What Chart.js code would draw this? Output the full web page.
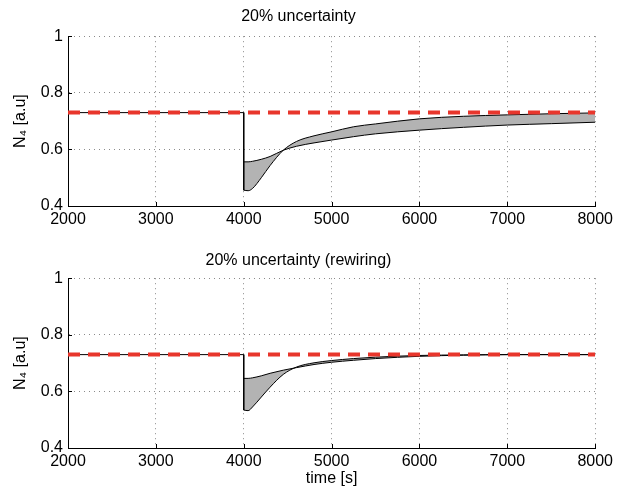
<!DOCTYPE html>
<html lang="en">
<head>
  <meta charset="UTF-8">
  <title>N4 response, 20% uncertainty</title>
  <script src="https://cdn.jsdelivr.net/npm/chart.js"></script>
  <style>
    body {
      margin: 0;
      background: #fff;
      font-family: "Liberation Sans", Arial, sans-serif;
    }
    .panel {
      position: absolute;
      left: 0;
      width: 617px;
      height: 245px;
    }
  </style>
</head>
<body>
  <div class="panel" style="top: 0"><canvas id="topChart" width="617" height="245"></canvas></div>
  <div class="panel" style="top: 245px"><canvas id="bottomChart" width="617" height="245"></canvas></div>

  <script>
    // axis ticks
    const xTicks = [2000, 3000, 4000, 5000, 6000, 7000, 8000];
    const yTicks = [0.4, 0.6, 0.8, 1];

    // steady state level (red dashed)
    const refTimes = [2000, 8000];
    const refLevel = [0.73, 0.73];

    // band bounds after the perturbation at t = 4000
    const bandTimes = [4000, 4050, 4100, 4200, 4300, 4450, 4600, 4800, 5000, 5250, 5500, 6000, 6500, 7000, 7500, 8000];

    // 20% uncertainty
    const topStepTimes = [2000, 4000, 4000];
    const topStepValues = [0.73, 0.73, 0.456];
    const topA = [0.556, 0.556, 0.558, 0.565, 0.575, 0.597, 0.611, 0.623, 0.633, 0.645, 0.655, 0.668, 0.678, 0.686, 0.691, 0.696];
    const topB = [0.456, 0.454, 0.462, 0.500, 0.543, 0.597, 0.628, 0.648, 0.662, 0.680, 0.690, 0.708, 0.717, 0.722, 0.726, 0.729];

    // 20% uncertainty (rewiring)
    const botStepTimes = [2000, 4000, 4000];
    const botStepValues = [0.73, 0.73, 0.534];
    const botA = [0.646, 0.646, 0.648, 0.655, 0.664, 0.675, 0.684, 0.695, 0.703, 0.710, 0.716, 0.724, 0.728, 0.730, 0.730, 0.730];
    const botB = [0.534, 0.532, 0.545, 0.580, 0.615, 0.660, 0.686, 0.701, 0.709, 0.716, 0.721, 0.727, 0.729, 0.730, 0.730, 0.730];

    const FONT = '"Liberation Sans", Arial, sans-serif';
    const pts = (xs, ys) => xs.map((x, i) => ({ x: x, y: ys[i] }));

    // matlab style ticks pointing into the plot area
    const innerTicks = {
      id: 'innerTicks',
      afterDatasetsDraw(chart) {
        const { ctx, chartArea: a, scales: { x, y } } = chart;
        ctx.save();
        ctx.strokeStyle = '#000';
        ctx.lineWidth = 1;
        ctx.beginPath();
        x.ticks.forEach(t => {
          const px = Math.round(x.getPixelForValue(t.value)) + 0.5;
          ctx.moveTo(px, a.bottom);
          ctx.lineTo(px, a.bottom - 4);
        });
        y.ticks.forEach(t => {
          const py = Math.round(y.getPixelForValue(t.value)) + 0.5;
          ctx.moveTo(a.left, py);
          ctx.lineTo(a.left + 4, py);
        });
        ctx.stroke();
        ctx.restore();
      }
    };

    function makeChart(id, title, stepTimes, stepValues, a, b, opts) {
      const ctx = document.getElementById(id).getContext('2d');
      return new Chart(ctx, {
        type: 'line',
        data: {
          datasets: [
            {
              data: pts(refTimes, refLevel),
              borderColor: '#e8362c',
              borderWidth: 4,
              borderDash: [12, 8],
              pointRadius: 0,
              fill: false
            },
            {
              data: pts(stepTimes, stepValues),
              borderColor: '#000',
              borderWidth: 1,
              pointRadius: 0,
              tension: 0,
              fill: false
            },
            {
              data: pts(bandTimes, a),
              borderColor: '#000',
              borderWidth: 1,
              pointRadius: 0,
              cubicInterpolationMode: 'monotone',
              fill: false
            },
            {
              data: pts(bandTimes, b),
              borderColor: '#000',
              borderWidth: 1,
              backgroundColor: '#b3b3b3',
              pointRadius: 0,
              cubicInterpolationMode: 'monotone',
              fill: '-1'
            }
          ]
        },
        options: {
          responsive: false,
          animation: false,
          events: [],
          layout: { padding: { left: 0, right: 20, top: 0, bottom: 0 } },
          plugins: {
            legend: { display: false },
            tooltip: { enabled: false },
            title: {
              display: true,
              text: title,
              color: '#000',
              font: { family: FONT, size: 16, weight: 'normal' },
              padding: opts.titlePad
            }
          },
          scales: {
            x: {
              type: 'linear',
              min: 2000,
              max: 8000,
              afterBuildTicks: s => { s.ticks = xTicks.map(v => ({ value: v })); },
              afterFit: s => { s.height = opts.xHeight; },
              ticks: {
                color: '#000',
                padding: 4,
                font: { family: FONT, size: 16 },
                maxRotation: 0,
                callback: v => String(v)
              },
              grid: { color: '#8a8a8a', lineWidth: 1, drawTicks: false },
              border: { display: true, color: '#000', width: 1, dash: [1, 4] },
              title: opts.xTitle
                ? { display: true, text: opts.xTitle, color: '#000', font: { family: FONT, size: 16 }, padding: { top: 0, bottom: 2 } }
                : { display: false }
            },
            y: {
              min: 0.4,
              max: 1,
              afterBuildTicks: s => { s.ticks = yTicks.map(v => ({ value: v })); },
              afterFit: s => { s.width = 68; },
              ticks: {
                color: '#000',
                padding: 5,
                font: { family: FONT, size: 16 },
                callback: v => String(+v.toFixed(1))
              },
              grid: { color: '#8a8a8a', lineWidth: 1, drawTicks: false },
              border: { display: true, color: '#000', width: 1, dash: [1, 4] },
              title: {
                display: true,
                text: 'N\u2084 [a.u]',
                color: '#000',
                font: { family: FONT, size: 16 },
                padding: { top: 11, bottom: 0 }
              }
            }
          }
        },
        plugins: [innerTicks]
      });
    }

    makeChart('topChart', '20% uncertainty', topStepTimes, topStepValues, topA, topB, {
      titlePad: { top: 7, bottom: 10 },
      xHeight: 39
    });

    makeChart('bottomChart', '20% uncertainty (rewiring)', botStepTimes, botStepValues, botA, botB, {
      titlePad: { top: 6, bottom: 8 },
      xHeight: 42,
      xTitle: 'time [s]'
    });
  </script>
</body>
</html>
